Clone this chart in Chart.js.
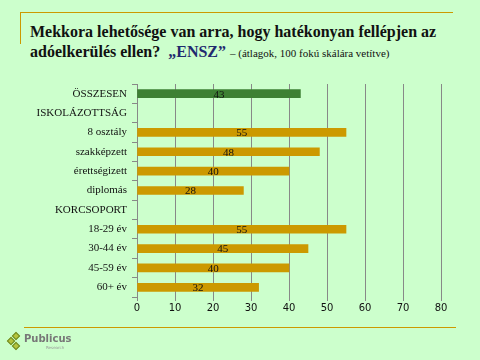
<!DOCTYPE html>
<html>
<head>
<meta charset="utf-8">
<script src="https://cdn.jsdelivr.net/npm/chart.js@4"></script>
<style>
  body { margin: 0; background: #ccffcc; }
  #page { position: relative; width: 480px; height: 360px; overflow: hidden; background: #ccffcc; }
  #topline { position: absolute; left: 20px; top: 12px; width: 433px; height: 1px; background: #cc9900; }
  #sideline { position: absolute; left: 20px; top: 12px; width: 1px; height: 32px; background: #cc9900; }
  #bottomline { position: absolute; left: 24px; top: 327px; width: 432px; height: 1px; background: #cc9900; }
  #title { position: absolute; left: 30px; top: 22px; width: 440px; font-family: "Liberation Serif", serif; font-weight: bold; font-size: 16px; line-height: 20px; color: #111; white-space: nowrap; }
  #title .ensz { color: #1f2a6e; }
  #title .note { font-weight: normal; font-size: 11px; }
  #chart { position: absolute; left: 0; top: 0; }
  #logo { position: absolute; left: 8px; top: 333px; }
  #logo .name { position: absolute; left: 16px; top: 0px; font-family: "DejaVu Sans", sans-serif; font-weight: bold; font-size: 10px; color: #777; }
  #logo .sub { position: absolute; left: 38px; top: 12px; font-family: "DejaVu Sans", sans-serif; font-size: 4px; color: #999; }
  .dia { position: absolute; width: 4px; height: 4px; background: #b5c43c; transform: rotate(45deg); border: 1px solid #6d8a25; }
</style>
</head>
<body>
<div id="page">
  <div id="topline"></div>
  <div id="sideline"></div>
  <div id="title">Mekkora lehetősége van arra, hogy hatékonyan fellépjen az<br>adóelkerülés ellen? &nbsp;<span class="ensz">„ENSZ”</span> <span class="note">– (átlagok, 100 fokú skálára vetítve)</span></div>
  <canvas id="chart" width="480" height="360"></canvas>
  <div id="bottomline"></div>
  <div id="logo">
    <div class="dia" style="left:5px;top:0px"></div>
    <div class="dia" style="left:0px;top:5px"></div>
    <div class="dia" style="left:5px;top:10px"></div>
    <div class="name">Publicus</div>
    <div class="sub">Research</div>
  </div>
</div>
<script>
var categories = ["ÖSSZESEN", "ISKOLÁZOTTSÁG", "8 osztály", "szakképzett", "érettségizett", "diplomás",
                  "KORCSOPORT", "18-29 év", "30-44 év", "45-59 év", "60+ év"];
var values = [43, null, 55, 48, 40, 28, null, 55, 45, 40, 32];
var barColors = ["#3d8033", "#cc9900", "#cc9900", "#cc9900", "#cc9900", "#cc9900",
                 "#cc9900", "#cc9900", "#cc9900", "#cc9900", "#cc9900"];
var xTicks = [0, 10, 20, 30, 40, 50, 60, 70, 80];

// labels in the middle of each bar
var barLabels = {
    id: "barLabels",
    afterDatasetsDraw: function (chart) {
        var ctx = chart.ctx;
        var meta = chart.getDatasetMeta(0);
        ctx.save();
        ctx.font = "11px 'Liberation Serif', serif";
        ctx.fillStyle = "#111";
        ctx.textAlign = "center";
        ctx.textBaseline = "middle";
        meta.data.forEach(function (bar, i) {
            if (values[i] == null) return;
            ctx.fillText(values[i], (bar.x + bar.base) / 2, bar.y + 1);
        });
        ctx.restore();
    }
};

new Chart(document.getElementById("chart").getContext("2d"), {
    type: "bar",
    data: {
        labels: categories,
        datasets: [{
            data: values,
            backgroundColor: barColors,
            barThickness: 8
        }]
    },
    options: {
        indexAxis: "y",
        responsive: false,
        animation: false,
        layout: { padding: { top: 84, left: 0, right: 39, bottom: 0 } },
        plugins: { legend: { display: false }, tooltip: { enabled: false } },
        scales: {
            x: {
                min: 0, max: 80,
                afterBuildTicks: function (s) { s.ticks = xTicks.map(function (v) { return { value: v }; }); },
                afterFit: function (s) { s.height = 63; },
                border: { display: false },
                grid: { color: "#888", lineWidth: 1, tickLength: 4 },
                ticks: { color: "#111", padding: 1, font: { family: "'DejaVu Sans', sans-serif", size: 10 } }
            },
            y: {
                afterFit: function (s) { s.width = 137; },
                border: { display: true, color: "#888" },
                grid: { drawOnChartArea: false, offset: true, color: "#888", tickLength: 5 },
                ticks: { color: "#111", padding: 5, font: { family: "'Liberation Serif', serif", size: 11 } }
            }
        }
    },
    plugins: [barLabels]
});
</script>
</body>
</html>
